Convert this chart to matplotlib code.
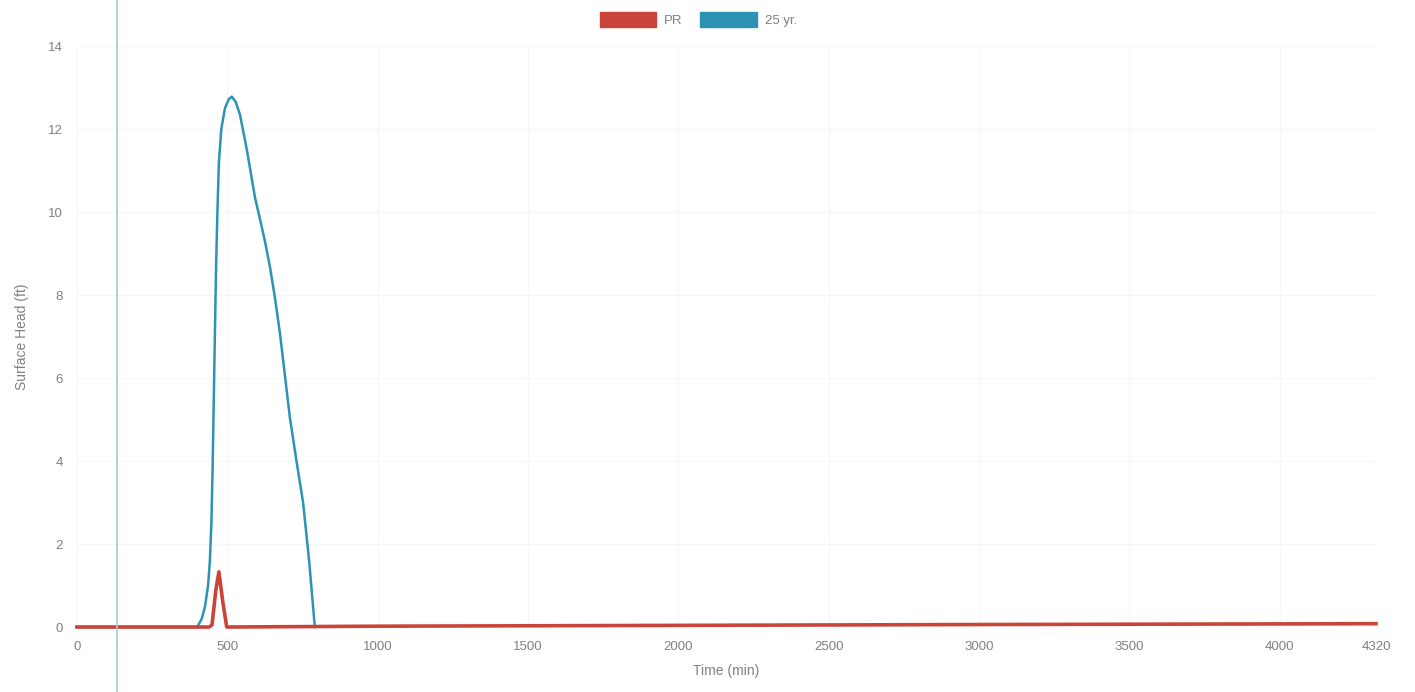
import matplotlib.pyplot as plt
from matplotlib.patches import Patch

plt.rcParams['font.family'] = ['Liberation Sans', 'DejaVu Sans']

# Surface head hydrographs
time_25yr = [0, 400, 415, 426, 436, 442, 447, 451, 455, 459, 463, 467, 472, 480, 492, 505, 515,
             528, 542, 565, 592, 608, 625, 642, 658, 675, 691, 708, 730, 752, 772, 791]
head_25yr = [0, 0, 0.2, 0.5, 1.0, 1.6, 2.5, 3.8, 5.5, 7.2, 8.8, 10.0, 11.2, 12.0, 12.5, 12.72, 12.78,
             12.65, 12.35, 11.5, 10.35, 9.85, 9.3, 8.67, 7.95, 7.08, 6.1, 5.05, 4.0, 3.0, 1.6, 0.0]

time_pr = [0, 440, 449, 462, 472, 485, 498, 1000, 2000, 3000, 4320]
head_pr = [0, 0, 0.05, 0.9, 1.33, 0.6, 0.0, 0.02, 0.04, 0.06, 0.08]

x_ticks = [0, 500, 1000, 1500, 2000, 2500, 3000, 3500, 4000, 4320]
y_ticks = [0, 2, 4, 6, 8, 10, 12, 14]

red = '#c9453a'
blue = '#2c93b4'
label_color = '#808080'

fig = plt.figure(figsize=(14.15, 6.92), dpi=100)
ax = fig.add_axes([0.0544, 0.0939, 0.918, 0.8396])

ax.plot(time_25yr, head_25yr, color=blue, lw=1.8, clip_on=False, zorder=3)
ax.plot(time_pr, head_pr, color=red, lw=2.6, clip_on=False, zorder=4)

ax.set_xlim(0, 4320)
ax.set_ylim(0, 14)
ax.set_xticks(x_ticks)
ax.set_yticks(y_ticks)
ax.tick_params(length=0, labelsize=9.5, colors=label_color, pad=10)
for s in ax.spines.values():
    s.set_visible(False)
ax.grid(True, color='#f5f7f7', lw=0.8)

ax.set_xlabel('Time (min)', fontsize=10, color=label_color, labelpad=8)
ax.set_ylabel('Surface Head (ft)', fontsize=10, color=label_color, labelpad=14)

# hover guide line
fig.add_artist(plt.Line2D([117 / 1415, 117 / 1415], [0, 1], color='#a9c9cc', lw=1.2))

handles = [Patch(facecolor=red, edgecolor=red, label='PR'),
           Patch(facecolor=blue, edgecolor=blue, label='25 yr.')]
fig.legend(handles=handles, loc='upper center', bbox_to_anchor=(0.4935, 1.0), ncol=2,
           frameon=False, handlelength=4.3, handleheight=1.4, columnspacing=1.3,
           handletextpad=0.6, fontsize=9.5, labelcolor=label_color)

fig.savefig('out.png', dpi=100, facecolor='white')
